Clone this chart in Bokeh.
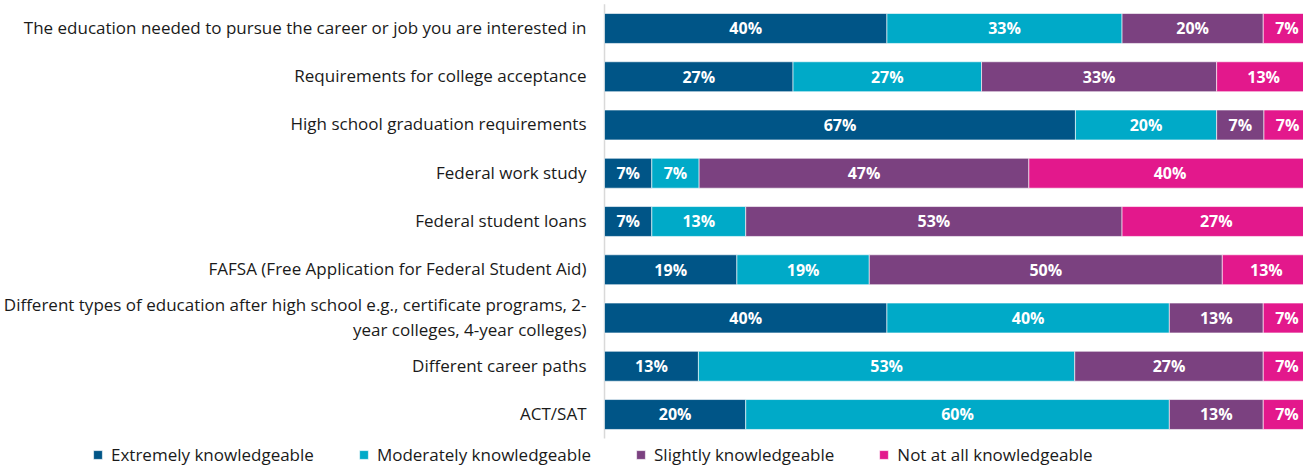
from bokeh.plotting import figure
from bokeh.models import Range1d, ColumnDataSource
from bokeh.core.properties import value
from bokeh.embed import file_html
from bokeh.resources import INLINE

categories = [
    "The education needed to pursue the career or job you are interested in",
    "Requirements for college acceptance",
    "High school graduation requirements",
    "Federal work study",
    "Federal student loans",
    "FAFSA (Free Application for Federal Student Aid)",
    "Different types of education after high school e.g., certificate programs, 2-\nyear colleges, 4-year colleges)",
    "Different career paths",
    "ACT/SAT",
]
series_names = ["Extremely knowledgeable", "Moderately knowledgeable",
                "Slightly knowledgeable", "Not at all knowledgeable"]
extremely = [40.0, 26.7, 66.7, 6.7, 6.7, 18.75, 40.0, 13.3, 20.0]
moderately = [33.3, 26.7, 20.0, 6.7, 13.3, 18.75, 40.0, 53.3, 60.0]
slightly = [20.0, 33.3, 6.7, 46.7, 53.3, 50.0, 13.3, 26.7, 13.3]
not_at_all = [6.7, 13.3, 6.7, 40.0, 26.7, 12.5, 6.7, 6.7, 6.7]
colors = ["#005587", "#00AAC8", "#7B4180", "#E3188C"]

FONT = "Open Sans"
series = [extremely, moderately, slightly, not_at_all]
keys = ["s0", "s1", "s2", "s3"]
ypos = list(range(len(categories)))

src = ColumnDataSource(dict(y=ypos, cat=categories,
                            **{k: v for k, v in zip(keys, series)}))

# one frame covering the whole canvas; 0% sits at x=604 px, ~99% at right edge
p = figure(width=1303, height=465, output_backend="svg", toolbar_location=None,
           x_range=Range1d(-85.55, 99.0), y_range=Range1d(9.057, -0.580),
           min_border_left=0, min_border_right=0, min_border_top=0,
           min_border_bottom=0)
p.outline_line_color = None
p.xgrid.visible = False
p.ygrid.visible = False
p.xaxis.visible = False
p.yaxis.visible = False

# vertical axis line spanning the category bands
p.segment(x0=[0], x1=[0], y0=[ypos[0] - 0.5], y1=[ypos[-1] + 0.5],
          line_color="#D9D9D9", line_width=1.5)

p.hbar_stack(keys, y="y", height=0.62, color=colors, source=src,
             line_color="white", line_width=0.6, legend_label=series_names)

# category labels
p.text(x=0, y="y", text="cat", source=src, x_offset=-18, y_offset=-1,
       text_align="right", text_baseline="middle", text_color="#1a1a1a",
       text_font=value(FONT), text_font_size="17px", text_line_height=1.05)

# segment labels
lx, ly, lt = [], [], []
for i in range(len(categories)):
    left = 0.0
    for s in series:
        v = s[i]
        lx.append(left + v / 2)
        ly.append(i)
        lt.append(f"{int(v + 0.5)}%")
        left += v
p.text(x=lx, y=ly, text=lt, text_align="center", text_baseline="middle",
       text_color="white", text_font=value(FONT), text_font_style="bold",
       text_font_size="16px")

lg = p.legend[0]
lg.orientation = "horizontal"
lg.location = (92, -1)
lg.padding = 0
lg.margin = 0
lg.border_line_color = None
lg.background_fill_alpha = 0
lg.glyph_width = 11
lg.glyph_height = 11
lg.label_height = 16
lg.label_standoff = 8
lg.spacing = 44
lg.label_text_font = FONT
lg.label_text_font_size = "17px"
lg.label_text_color = "#1a1a1a"

open("out.html", "w").write(file_html(p, INLINE))
